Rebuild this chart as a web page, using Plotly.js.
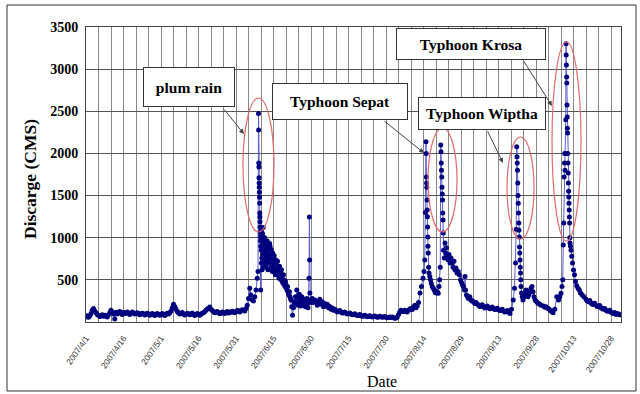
<!DOCTYPE html>
<html>
<head>
<meta charset="utf-8">
<script src="https://cdn.plot.ly/plotly-3.0.1.min.js"></script>
<style>html,body{margin:0;padding:0;background:#fff;}#chart{width:640px;height:394px;}</style>
</head>
<body>
<div id="chart"></div>
<script>
// ---- Data: day of month (fractional = part of day) and discharge (CMS) ----
const aprDay = [1,1.5,2,2.5,3,3.5,4,4.5,5,5.5,6,6.5,7,7.5,8,8.5,9,9.5,10,10.5,11,11.5,12,12.5,13,13.5,14,14.5,15,15.5,
  16,16.5,17,17.5,18,18.5,19,19.5,20,20.5,21,21.5,22,22.5,23,23.5,24,24.5,25,25.5,26,26.5,27,27.5,28,28.5,29,29.5,30,30.5];
const aprQ   = [60,75,55,70,100,140,160,130,110,90,80,65,72,85,68,80,72,60,85,110,140,120,95,35,115,95,110,125,105,90,
  112,100,108,120,100,88,105,118,110,95,100,110,100,85,95,105,98,82,92,104,95,80,90,100,88,76,92,102,90,80];

const mayDay = [1,1.5,2,2.5,3,3.5,4,4.5,5,5.5,6,6.5,7,7.5,8,8.5,9,9.5,10,10.5,11,11.5,12,12.5,13,13.5,14,14.5,15,15.5,
  16,16.5,17,17.5,18,18.5,19,19.5,20,20.5,21,21.5,22,22.5,23,23.5,24,24.5,25,25.5,26,26.5,27,27.5,28,28.5,29,29.5,30,30.5,31,31.5];
const mayQ   = [88,100,90,78,92,105,95,110,130,170,210,185,150,125,110,95,100,112,95,82,92,104,98,85,95,108,90,78,88,100,
  92,80,95,105,110,125,140,155,160,178,150,135,125,110,115,125,110,98,105,118,110,100,112,125,108,118,115,128,120,110,125,135];

const junDay = [1,1.5,2,2.5,3,3.5,4,4.5,5,5.5,6,6.5,7,7.5,8,8.5,8.8,
  9.0,9.05,9.1,9.15,9.2,9.25,9.3,9.35,9.4,9.45,9.5,9.55,9.6,9.65,9.7,9.75,9.8,9.85,9.9,9.95,
  10.0,10.1,10.15,10.2,10.3,10.35,10.45,10.5,10.6,10.7,10.75,10.85,10.9,11.0,11.05,11.15,11.2,11.3,11.35,11.45,11.5,11.6,11.7,11.8,11.85,11.95,
  12.0,12.1,12.2,12.3,12.4,12.5,12.6,12.7,12.8,12.9,13.0,13.15,13.3,13.45,13.6,13.75,13.9,14.05,14.2,14.35,14.5,14.65,14.8,14.95,
  15.1,15.25,15.4,15.55,15.7,15.85,16.0,16.2,16.4,16.6,16.8,17.0,17.2,17.4,17.6,17.8,18.0,18.2,18.4,18.6,18.8,19.0,19.2,19.4,19.6,19.8,
  20.0,20.2,20.4,20.6,20.8,21.0,21.2,21.4,21.6,21.8,22.0,22.3,22.6,
  23.0,23.3,23.5,23.8,24.0,24.3,24.5,24.8,25.0,25.3,25.5,25.8,26.0,26.3,26.5,26.8,27.0,27.3,27.5,27.8,28.0,28.3,28.5,28.8,
  29.0,29.2,29.35,29.45,29.55,29.7,30.0,30.5];
const junQ   = [130,120,135,145,140,130,160,200,280,400,320,260,250,300,380,520,600,
  2475,2277,1886,1840,1710,1650,1600,1540,1480,1410,1293,1245,1190,1127,1060,1010,960,380,900,1080,
  1100,850,700,980,1000,760,620,900,1050,930,800,1120,950,720,660,1000,900,820,750,940,1000,850,700,920,880,760,
  650,820,900,780,720,960,850,700,620,880,800,740,700,930,900,780,640,860,780,680,600,820,750,700,
  650,790,720,620,560,740,700,620,580,720,650,560,520,660,600,540,500,620,560,480,460,560,500,440,420,480,
  440,400,380,420,360,340,320,360,300,280,260,180,80,
  170,240,220,300,240,380,300,200,210,330,260,190,230,300,280,200,220,270,250,180,230,280,210,170,
  250,520,1245,735,344,260,230,280];

const julDay = [1,1.5,2,2.5,3,3.5,4,4.5,5,5.5,6,6.5,7,7.5,8,8.5,9,9.5,10,10.5,11,11.5,12,12.5,13,13.5,14,14.5,15,15.5,
  16,16.5,17,17.5,18,18.5,19,19.5,20,20.5,21,21.5,22,22.5,23,23.5,24,24.5,25,25.5,26,26.5,27,27.5,28,28.5,29,29.5,30,30.5,31,31.5];
const julQ   = [230,260,240,200,230,270,210,240,180,220,190,210,170,185,150,165,140,150,135,120,125,135,120,108,110,120,105,95,100,108,
  95,85,90,98,85,78,80,88,75,68,72,80,70,62,68,75,65,58,65,72,62,55,60,68,62,55,58,64,55,50,55,60];

const augDay = [1,1.5,2,2.5,3,3.5,4,4.5,5,5.5,6,6.5,7,7.5,8,8.5,9,9.5,10,10.6,11,11.5,12,12.6,13.2,13.8,14.2,14.5,14.75,
  15.0,15.08,15.16,15.24,15.32,15.4,15.48,15.56,15.64,15.72,15.8,15.9,16.05,16.2,16.5,16.8,17.1,17.5,17.9,18.3,18.7,19.1,19.5,19.9,
  20.2,20.45,20.7,20.9,21.0,21.1,21.2,21.3,21.4,21.5,21.6,21.7,21.8,21.9,
  22.0,22.3,22.6,22.9,23.2,23.5,23.8,24.2,24.6,25.0,25.4,25.8,26.2,26.6,27.0,27.4,27.9,28.3,28.8,29.2,29.6,30.0,30.4,30.6,30.8,31.2,31.6];
const augQ   = [52,58,50,45,47,60,90,120,140,125,125,140,130,118,140,155,160,148,180,200,170,190,230,344,420,520,600,735,1300,
  2140,2000,1720,1650,1600,1447,1330,1250,1127,1008,900,818,650,580,540,500,460,420,400,380,350,344,360,340,
  420,500,650,2100,2020,1886,1800,1720,1600,1520,1447,1293,1210,1055,
  850,760,937,820,880,780,740,800,700,760,700,650,720,617,640,580,600,560,500,470,440,420,380,540,380,320,300];

const sepDay = [1,1.5,2,2.5,3,3.5,4,4.5,5,5.5,6,6.5,7,7.5,8,8.5,9,9.5,10,10.5,11,11.5,12,12.5,13,13.5,14,14.5,15,15.5,16,16.5,17,17.6,
  18.2,18.9,19.4,19.8,20.1,20.3,20.4,20.5,20.6,20.7,20.8,20.9,21.0,21.1,21.2,21.3,21.4,21.5,21.6,21.7,21.8,21.9,22.0,22.2,22.5,22.8,
  23.2,23.6,24.0,24.4,24.8,25.2,25.6,26.0,26.4,26.8,27.2,27.6,28.0,28.5,29,29.5,30];
const sepQ   = [280,300,260,250,240,220,230,215,200,185,190,205,180,165,175,190,170,158,165,178,160,148,150,162,145,135,140,150,130,120,125,135,115,100,
  150,260,400,700,1100,2080,1960,1886,1800,1650,1500,1410,1293,1174,1090,1008,890,818,735,650,580,500,420,344,300,260,
  300,340,380,360,300,330,370,400,420,360,300,260,250,230,220,210,200];

const octDay = [1,1.5,2,2.5,3,3.5,4,4.5,4.8,5.5,6.3,7,7.5,8,8.4,8.7,8.9,9.1,9.25,9.4,9.5,9.6,9.75,9.9,
  10.0,10.08,10.16,10.24,10.32,10.4,10.48,10.56,10.64,10.72,10.8,10.88,10.96,11.04,11.12,11.2,11.28,11.36,11.44,11.52,11.6,11.8,
  12.0,12.3,12.6,13.0,13.4,13.8,14.3,14.8,15.3,15.8,16.5,17.2,18,18.5,19,19.5,20,20.5,21,21.5,22,22.5,23,23.5,24,24.5,
  25,25.5,26,26.5,27,27.5,28,28.5,29,29.5,30,30.5,31,31.5];
const octQ   = [190,175,180,165,160,145,130,120,110,150,300,260,300,340,420,500,913,1174,1720,1886,2000,1800,2000,2400,
  3300,3167,3048,2906,2835,2574,2431,2300,2241,2000,1886,1767,1650,1550,1483,1410,1330,1245,1174,1000,937,900,
  850,780,700,617,560,480,430,400,380,344,320,300,270,250,240,255,225,210,210,222,200,185,185,195,170,160,
  150,160,140,128,130,140,120,108,100,112,90,100,95,85];

// x tick labels (every 15 days)
const tickDates  = ['2007-04-01','2007-04-16','2007-05-01','2007-05-16','2007-05-31','2007-06-15','2007-06-30','2007-07-15','2007-07-30','2007-08-14','2007-08-29','2007-09-13','2007-09-28','2007-10-13','2007-10-28'];
const tickLabels = ['2007/4/1','2007/4/16','2007/5/1','2007/5/16','2007/5/31','2007/6/15','2007/6/30','2007/7/15','2007/7/30','2007/8/14','2007/8/29','2007/9/13','2007/9/28','2007/10/13','2007/10/28'];
const yTicks = [500,1000,1500,2000,2500,3000,3500];

// ---- build series ----
function toDate(month, day) {
  const whole = Math.floor(day);
  const ms = Date.UTC(2007, month - 1, whole) + (day - whole) * 86400000;
  return new Date(Math.round(ms / 60000) * 60000).toISOString().slice(0, 16).replace('T', ' ');
}
const months = [[4, aprDay, aprQ],[5, mayDay, mayQ],[6, junDay, junQ],[7, julDay, julQ],[8, augDay, augQ],[9, sepDay, sepQ],[10, octDay, octQ]];
const xs = [], ys = [];
months.forEach(([m, d, q]) => { d.forEach((v, i) => { xs.push(toDate(m, v)); ys.push(q[i]); }); });

// ---- pixel helpers for decorations ----
const L = 86, R = 621, T = 27, B = 322;
const pxX = p => (p - L) / (R - L);
const pxY = p => (B - p) / (B - T);

const ellipses = [[243,274,98,232],[428,457,128,232],[507,534,137,239],[552,581,42,241]];
const boxes = [
  ['plum rain', 143, 235, 67, 107],
  ['Typhoon Sepat', 272, 408, 83, 120],
  ['Typhoon Wiptha', 418, 546, 97, 130],
  ['Typhoon Krosa', 396, 546, 28, 60]
];
const arrows = [ // tail x,y -> head x,y (pixels)
  [223,108,244,134],
  [383,120,424,153],
  [487,130,503,163],
  [523,60,552,106]
];

const shapes = ellipses.map(e => ({
  type: 'circle', xref: 'paper', yref: 'paper',
  x0: pxX(e[0]), x1: pxX(e[1]), y0: pxY(e[3]), y1: pxY(e[2]),
  line: {color: '#e06a6a', width: 1.2}
}));
shapes.push({type: 'rect', xref: 'paper', yref: 'paper', x0: pxX(7), x1: pxX(636), y0: pxY(391), y1: pxY(5), line: {color: '#333', width: 1}});

const annotations = [];
arrows.forEach(a => annotations.push({
  xref: 'paper', yref: 'paper', x: pxX(a[2]), y: pxY(a[3]), ax: a[0] - a[2], ay: a[1] - a[3],
  text: '', showarrow: true, arrowhead: 2, arrowsize: 1, arrowwidth: 1, arrowcolor: '#444', standoff: 0, startstandoff: 0
}));
boxes.forEach(b => annotations.push({
  xref: 'paper', yref: 'paper', x: pxX((b[1] + b[2]) / 2), y: pxY((b[3] + b[4]) / 2),
  xanchor: 'center', yanchor: 'middle', showarrow: false,
  text: '<b>' + b[0] + '</b>', font: {family: 'Liberation Serif', size: 15.5, color: '#000'},
  bgcolor: '#fff', bordercolor: '#333', borderwidth: 1, borderpad: 0,
  width: b[2] - b[1] - 2, height: b[4] - b[3] - 2
}));
annotations.push({xref: 'paper', yref: 'paper', x: pxX(30), y: pxY(179), text: '<b>Discarge (CMS)</b>', textangle: -90,
  showarrow: false, xanchor: 'center', yanchor: 'middle', font: {family: 'Liberation Serif', size: 17.5, color: '#000'}});
annotations.push({xref: 'paper', yref: 'paper', x: pxX(382), y: pxY(382), text: 'Date',
  showarrow: false, xanchor: 'center', yanchor: 'middle', font: {family: 'Liberation Serif', size: 16, color: '#000'}});

const trace = {
  x: xs, y: ys, type: 'scatter', mode: 'lines+markers',
  line: {color: '#5a5ad6', width: 1},
  marker: {color: '#00007f', size: 5},
  hoverinfo: 'x+y'
};

const layout = {
  width: 640, height: 394,
  margin: {l: L, r: 640 - R, t: T, b: 394 - B},
  paper_bgcolor: '#fff', plot_bgcolor: '#fff',
  showlegend: false,
  xaxis: {
    type: 'date', range: ['2007-04-01', '2007-11-01'],
    tickmode: 'array', tickvals: tickDates, ticktext: tickLabels,
    tickangle: -55, tickfont: {family: 'Liberation Sans', size: 8.5, color: '#333'},
    ticklabelstandoff: 7,
    showgrid: true, gridcolor: '#888', gridwidth: 1,
    minor: {tickmode: 'linear', tick0: '2007-04-01', dtick: 5 * 86400000, showgrid: true, gridcolor: '#888', gridwidth: 1},
    showline: true, linecolor: '#444', mirror: true, zeroline: false, ticks: ''
  },
  yaxis: {
    range: [0, 3500], tickmode: 'array', tickvals: yTicks,
    tickfont: {family: 'Liberation Serif', size: 14, color: '#000', weight: 'bold'},
    showgrid: true, gridcolor: '#555', gridwidth: 1,
    showline: true, linecolor: '#444', mirror: true, zeroline: false, ticks: '', ticklabelstandoff: 4
  },
  shapes: shapes,
  annotations: annotations
};

Plotly.newPlot('chart', [trace], layout, {displayModeBar: false, staticPlot: true});
</script>
</body>
</html>
